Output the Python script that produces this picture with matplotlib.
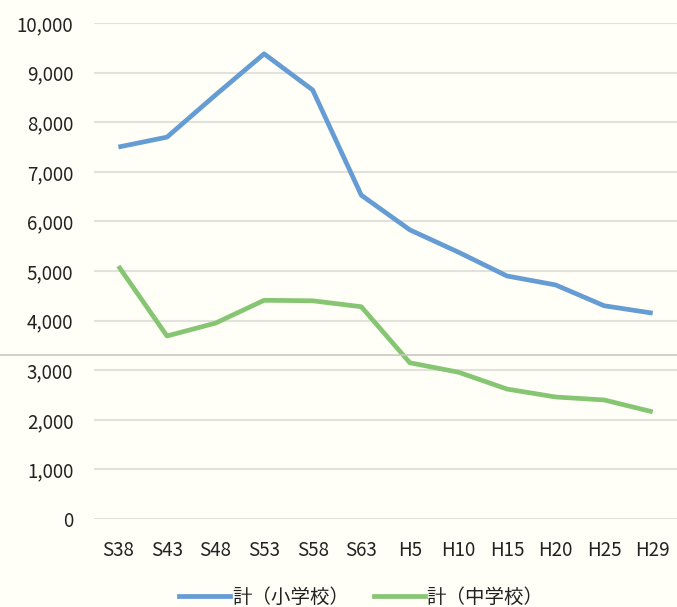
import matplotlib
matplotlib.use('Agg')
import matplotlib.pyplot as plt
from matplotlib.lines import Line2D

plt.rcParams['font.family'] = ['Noto Sans CJK JP', 'DejaVu Sans']

# Data
years = ['S38', 'S43', 'S48', 'S53', 'S58', 'S63',
         'H5', 'H10', 'H15', 'H20', 'H25', 'H29']
elementary = [7500, 7700, 8550, 9380, 8650, 6530,
              5830, 5380, 4900, 4720, 4300, 4150]
junior_high = [5100, 3690, 3950, 4410, 4400, 4280,
               3150, 2960, 2620, 2460, 2400, 2160]
series_labels = ['計（小学校）', '計（中学校）']
y_ticks = [0, 1000, 2000, 3000, 4000, 5000, 6000, 7000, 8000, 9000, 10000]

blue = '#649cd3'
green = '#86c673'
bg = '#fffff8'

fig = plt.figure(figsize=(6.77, 6.07), dpi=100, facecolor=bg)
ax = fig.add_axes([0.139, 0.145, 0.861, 0.817], facecolor=bg)

x = range(len(years))
ax.plot(x, elementary, color=blue, lw=3.4, solid_capstyle='butt')
ax.plot(x, junior_high, color=green, lw=3.4, solid_capstyle='butt')

ax.set_xlim(-0.5, len(years) - 0.5)
ax.set_ylim(0, 10000)
ax.set_yticks(y_ticks)
ax.set_yticklabels([f'{v:,}' for v in y_ticks])
ax.set_xticks(list(x))
ax.set_xticklabels(years)
ax.grid(axis='y', color='#e2e2dc', lw=1.5)
ax.set_axisbelow(True)
for s in ax.spines.values():
    s.set_visible(False)
ax.tick_params(length=0, labelsize=13.5, colors='#222222')
ax.tick_params(axis='y', pad=15)
ax.tick_params(axis='x', pad=15)

# scan artefact line across the page
fig.add_artist(Line2D([0, 1], [1 - 355 / 607] * 2, color='#c8c8c0', lw=1.2))

handles = [Line2D([], [], color=blue, lw=3.4), Line2D([], [], color=green, lw=3.4)]
fig.legend(handles, series_labels, loc='lower center', ncol=2, frameon=False,
           bbox_to_anchor=(0.534, -0.03), fontsize=14, handlelength=2.6,
           handletextpad=0.1, columnspacing=1.3, labelcolor='#222222')

fig.savefig('out.png', dpi=100, facecolor=bg)
